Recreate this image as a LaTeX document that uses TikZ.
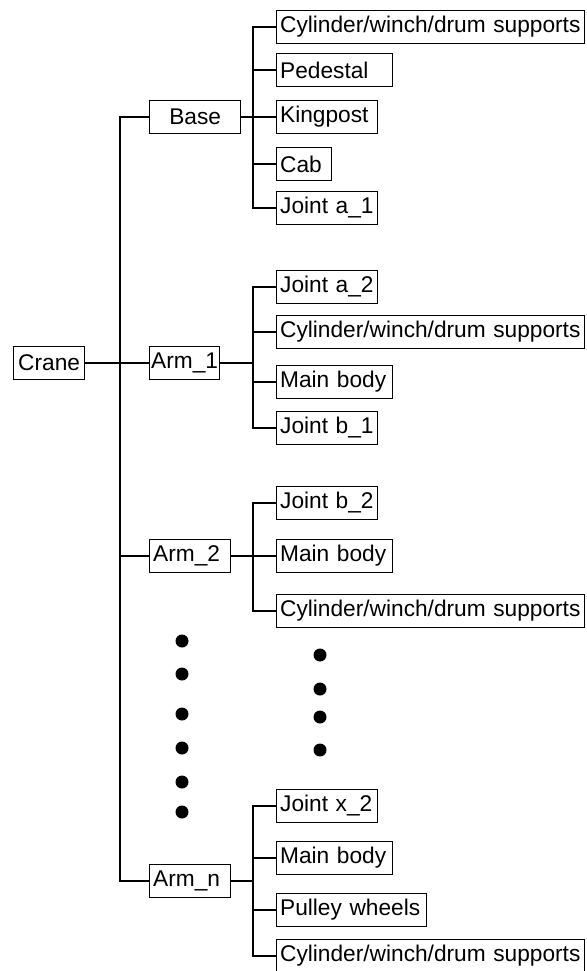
\documentclass[tikz,border=0pt]{standalone}
\usepackage{fontspec}
\setmainfont{Liberation Sans}
\begin{document}
\begin{tikzpicture}[x=1pt,y=-1pt,
  every path/.style={line width=1.3pt},
  box/.style={draw, line width=1.3pt, anchor=west, minimum height=33pt,
    inner xsep=3.5pt, inner ysep=0pt, align=left,
    font=\fontsize{22.7}{24}\selectfont},
  cbox/.style={box, align=center},
  dot/.style={fill=black, circle, inner sep=0pt, minimum size=13pt}]
\useasboundingbox (0,0) rectangle (586,971);

% root and first-level parts
\node[cbox, text width=64pt] (crane) at (13,363) {Crane};
\node[cbox, text width=84pt] (base)  at (149,117) {Base};
\node[cbox, text width=67pt, inner xsep=1.5pt] (arm1) at (149,363) {Arm\_1};
\node[box,  text width=74pt] (arm2)  at (149,556) {Arm\_2};
\node[box,  text width=74pt] (armn)  at (149,881) {Arm\_n};

% parts of the base
\node[box, text width=301pt] (b1) at (276,27)  {Cylinder/winch/drum supports};
\node[box, text width=109pt] (b2) at (276,70)  {Pedestal};
\node[box, text width=94pt]  (b3) at (276,117) {Kingpost};
\node[box, text width=48pt]  (b4) at (276,164) {Cab};
\node[box, text width=94pt]  (b5) at (276,208) {Joint a\_1};

% parts of arm 1
\node[box, text width=94pt]  (a1) at (276,287) {Joint a\_2};
\node[box, text width=301pt] (a2) at (276,332) {Cylinder/winch/drum supports};
\node[box, text width=109pt] (a3) at (276,382) {Main body};
\node[box, text width=94pt]  (a4) at (276,428) {Joint b\_1};

% parts of arm 2
\node[box, text width=94pt]  (c1) at (276,503) {Joint b\_2};
\node[box, text width=109pt] (c2) at (276,556) {Main body};
\node[box, text width=301pt] (c3) at (276,611) {Cylinder/winch/drum supports};

% parts of arm n
\node[box, text width=94pt]  (n1) at (276,806) {Joint x\_2};
\node[box, text width=109pt] (n2) at (276,858) {Main body};
\node[box, text width=143pt] (n3) at (276,910) {Pulley wheels};
\node[box, text width=301pt] (n4) at (276,956) {Cylinder/winch/drum supports};

% vertical spines
\coordinate (trunk) at (120,0);
\coordinate (spine) at (253,0);

% crane to arms
\draw (crane.east) -- (arm1.west);
\draw (base.west) -- (base.west -| trunk) -- (armn.west -| trunk) -- (armn.west);
\draw (arm2.west) -- (arm2.west -| trunk);

% base branch
\draw (base.east) -- (base.east -| spine);
\draw (b1.west) -- (b1.west -| spine) -- (b5.west -| spine) -- (b5.west);
\foreach \n in {b2,b3,b4} \draw (\n.west) -- (\n.west -| spine);

% arm 1 branch
\draw (arm1.east) -- (arm1.east -| spine);
\draw (a1.west) -- (a1.west -| spine) -- (a4.west -| spine) -- (a4.west);
\foreach \n in {a2,a3} \draw (\n.west) -- (\n.west -| spine);

% arm 2 branch
\draw (arm2.east) -- (arm2.east -| spine);
\draw (c1.west) -- (c1.west -| spine) -- (c3.west -| spine) -- (c3.west);
\draw (c2.west) -- (c2.west -| spine);

% arm n branch
\draw (armn.east) -- (armn.east -| spine);
\draw (n1.west) -- (n1.west -| spine) -- (n4.west -| spine) -- (n4.west);
\foreach \n in {n2,n3} \draw (\n.west) -- (\n.west -| spine);

% ellipsis dots
\foreach \y [count=\i] in {641,674,714,748,782,812}
  \node[dot] (l\i) at (182,\y) {};
\foreach \y [count=\i] in {655,689,717,750}
  \node[dot] (r\i) at (320,\y) {};
\end{tikzpicture}
\end{document}
